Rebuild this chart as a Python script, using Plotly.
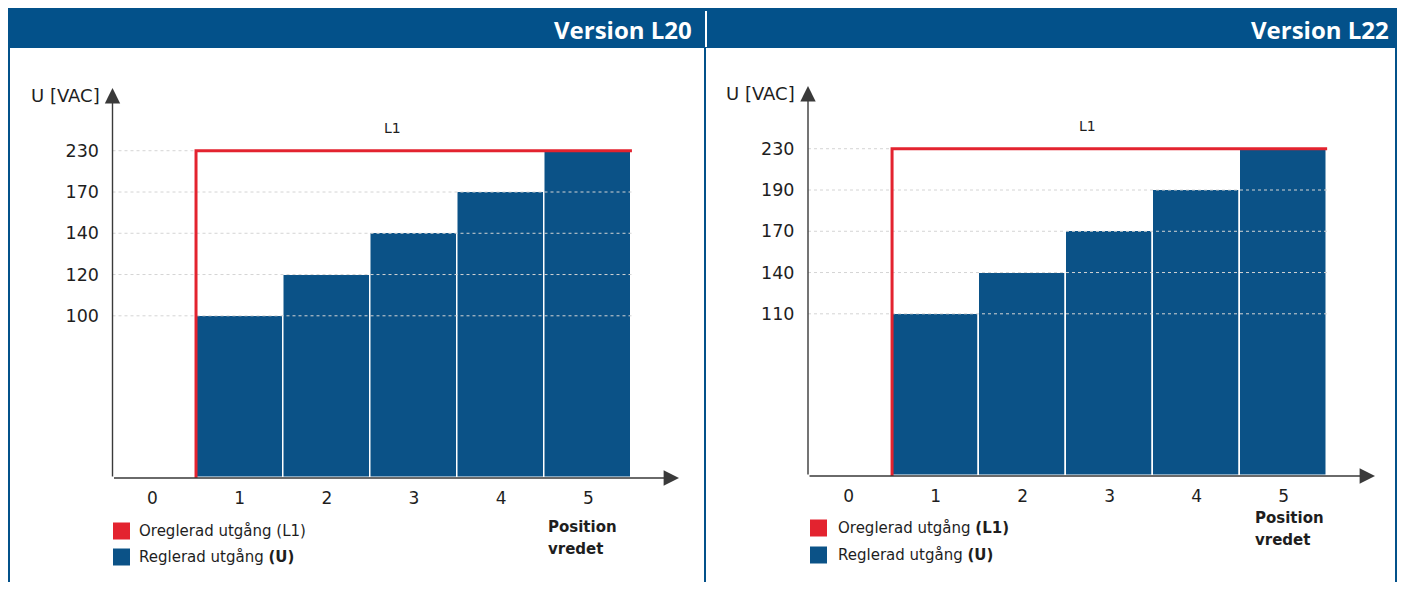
import plotly.graph_objects as go

# ---------------- data ----------------
positions = [0, 1, 2, 3, 4, 5]
position_labels = ["0", "1", "2", "3", "4", "5"]

l20_positions = [1, 2, 3, 4, 5]
l20_regulated = [100, 120, 140, 170, 230]   # U [VAC]
l20_unregulated = 230                      # L1 [VAC]
l20_ticks = [100, 120, 140, 170, 230]

l22_positions = [1, 2, 3, 4, 5]
l22_regulated = [110, 140, 170, 190, 230]
l22_unregulated = 230
l22_ticks = [110, 140, 170, 190, 230]

titles = ["Version L20", "Version L22"]

# ---------------- style ----------------
OFF = 8                # page body margin
W, H = 1405 - 2 * OFF, 590 - 2 * OFF
HEAD_BLUE = "#03518a"
BAR_BLUE = "#0b5287"
RED = "#e3232f"
AXIS_COL = "#3a3a3a"
TXT = "#1e1e1e"
FONT = "DejaVu Sans"
LEVEL_BASE = 3.93      # schematic (rank based) voltage scale
YTOP = 9.45


def px(x):
    return (x - OFF) / W


def py(y):
    return 1 - (y - OFF) / H


def level(v, ticks):
    return LEVEL_BASE + sorted(ticks).index(v)


fig = go.Figure()

panels = [
    dict(pos=l20_positions, reg=l20_regulated, unreg=l20_unregulated, ticks=l20_ticks,
         xa="x", ya="y", xdom=(112.5, 679), ydom=(478, 88), xr=(-0.458, 6.04)),
    dict(pos=l22_positions, reg=l22_regulated, unreg=l22_unregulated, ticks=l22_ticks,
         xa="x2", ya="y2", xdom=(808, 1375), ydom=(476, 86), xr=(-0.466, 6.05)),
]

annotations = []
shapes = []

for i, p in enumerate(panels):
    ticks = p["ticks"]
    x0 = p["xr"][0]
    x_end = p["pos"][-1] + 0.5
    # dotted grid lines
    for t in ticks:
        yl = level(t, ticks)
        fig.add_trace(go.Scatter(x=[x0, x_end], y=[yl, yl], mode="lines",
                                 line=dict(color="#d4d4d4", width=1, dash="dot"),
                                 xaxis=p["xa"], yaxis=p["ya"], hoverinfo="skip",
                                 showlegend=False))
    # regulated output bars
    fig.add_trace(go.Bar(x=p["pos"], y=[level(v, ticks) for v in p["reg"]],
                         customdata=p["reg"], width=1,
                         marker=dict(color=BAR_BLUE, line=dict(color="white", width=1.5)),
                         hovertemplate="Position %{x}: %{customdata} VAC<extra></extra>",
                         xaxis=p["xa"], yaxis=p["ya"], showlegend=False))
    # unregulated output L1
    xs = p["pos"][0] - 0.5
    yl1 = level(p["unreg"], ticks)
    fig.add_trace(go.Scatter(x=[xs, xs, x_end], y=[0, yl1, yl1], mode="lines",
                             line=dict(color=RED, width=3),
                             xaxis=p["xa"], yaxis=p["ya"], hoverinfo="skip",
                             showlegend=False))
    annotations.append(dict(x=2.75, y=yl1, xref=p["xa"], yref=p["ya"], text="L1",
                            showarrow=False, yshift=23,
                            font=dict(family=FONT, size=14, color=TXT)))
    # axis arrows
    annotations.append(dict(x=p["xr"][1], y=0, ax=x0, ay=0, xref=p["xa"], yref=p["ya"],
                            axref=p["xa"], ayref=p["ya"], text="", showarrow=True,
                            arrowhead=2, arrowsize=2.2, arrowwidth=1.4, arrowcolor=AXIS_COL,
                            standoff=0, startstandoff=0))
    annotations.append(dict(x=x0, y=YTOP, ax=x0, ay=0, xref=p["xa"], yref=p["ya"],
                            axref=p["xa"], ayref=p["ya"], text="", showarrow=True,
                            arrowhead=2, arrowsize=2.2, arrowwidth=1.4, arrowcolor=AXIS_COL,
                            standoff=0, startstandoff=0))

    sfx = "" if i == 0 else "2"
    fig.update_layout(**{
        "xaxis" + sfx: dict(domain=[px(p["xdom"][0]), px(p["xdom"][1])], range=list(p["xr"]),
                            tickvals=positions, ticktext=position_labels,
                            ticks="outside", ticklen=5, tickcolor="rgba(0,0,0,0)",
                            showgrid=False, zeroline=False, showline=False,
                            tickfont=dict(family=FONT, size=17, color=TXT),
                            anchor="y" + sfx, fixedrange=True),
        "yaxis" + sfx: dict(domain=[py(p["ydom"][0]), py(p["ydom"][1])], range=[0, YTOP],
                            tickvals=[level(t, ticks) for t in ticks],
                            ticktext=[str(t) for t in ticks],
                            ticks="outside", ticklen=9, tickcolor="rgba(0,0,0,0)",
                            showgrid=False, zeroline=False, showline=False,
                            tickfont=dict(family=FONT, size=17.5, color=TXT),
                            anchor="x" + sfx, fixedrange=True),
    })

# header band & panel frames
shapes.append(dict(type="rect", xref="paper", yref="paper", x0=px(8), x1=px(1401),
                   y0=py(48), y1=py(8), fillcolor=HEAD_BLUE, line=dict(width=0), layer="below"))
shapes.append(dict(type="line", xref="paper", yref="paper", x0=px(706), x1=px(706),
                   y0=py(47), y1=py(11), line=dict(color="white", width=2)))
for xb in (9, 705, 1396):
    shapes.append(dict(type="line", xref="paper", yref="paper", x0=px(xb), x1=px(xb),
                       y0=py(590), y1=py(47), line=dict(color=HEAD_BLUE, width=2)))

for xr_, t in zip((694, 1391), titles):
    annotations.append(dict(x=px(xr_), y=py(29), xref="paper", yref="paper", text="<b>" + t + "</b>",
                            xanchor="right", yanchor="middle", showarrow=False,
                            font=dict(family="Open Sans", size=24, color="white")))

# axis titles
for xr_, yv in ((102, 96), (797, 93)):
    annotations.append(dict(x=px(xr_), y=py(yv), xref="paper", yref="paper", text="U [VAC]",
                            xanchor="right", yanchor="middle", showarrow=False,
                            font=dict(family=FONT, size=18, color=TXT)))

# legends
legend_items = [
    (113, 137, 531, "Oreglerad utgång (L1)", RED),
    (113, 137, 557, "Reglerad utgång <b>(U)</b>", BAR_BLUE),
    (810, 836, 528, "Oreglerad utgång <b>(L1)</b>", RED),
    (810, 836, 555, "Reglerad utgång <b>(U)</b>", BAR_BLUE),
]
for sx, tx, cy, txt, col in legend_items:
    shapes.append(dict(type="rect", xref="paper", yref="paper", x0=px(sx), x1=px(sx + 17),
                       y0=py(cy + 8.5), y1=py(cy - 8.5), fillcolor=col, line=dict(width=0)))
    annotations.append(dict(x=px(tx), y=py(cy), xref="paper", yref="paper", text=txt,
                            xanchor="left", yanchor="middle", showarrow=False,
                            font=dict(family=FONT, size=15, color=TXT)))

for xl, y1, y2 in ((546, 527, 549), (1253, 518, 540)):
    annotations.append(dict(x=px(xl), y=py(y1), xref="paper", yref="paper", text="<b>Position</b>",
                            xanchor="left", yanchor="middle", showarrow=False,
                            font=dict(family=FONT, size=15, color=TXT)))
    annotations.append(dict(x=px(xl), y=py(y2), xref="paper", yref="paper", text="<b>vredet</b>",
                            xanchor="left", yanchor="middle", showarrow=False,
                            font=dict(family=FONT, size=15, color=TXT)))

fig.update_layout(width=W, height=H, margin=dict(l=0, r=0, t=0, b=0),
                  paper_bgcolor="white", plot_bgcolor="rgba(0,0,0,0)",
                  bargap=0, showlegend=False,
                  annotations=annotations, shapes=shapes)

fig.write_html("out.html")
